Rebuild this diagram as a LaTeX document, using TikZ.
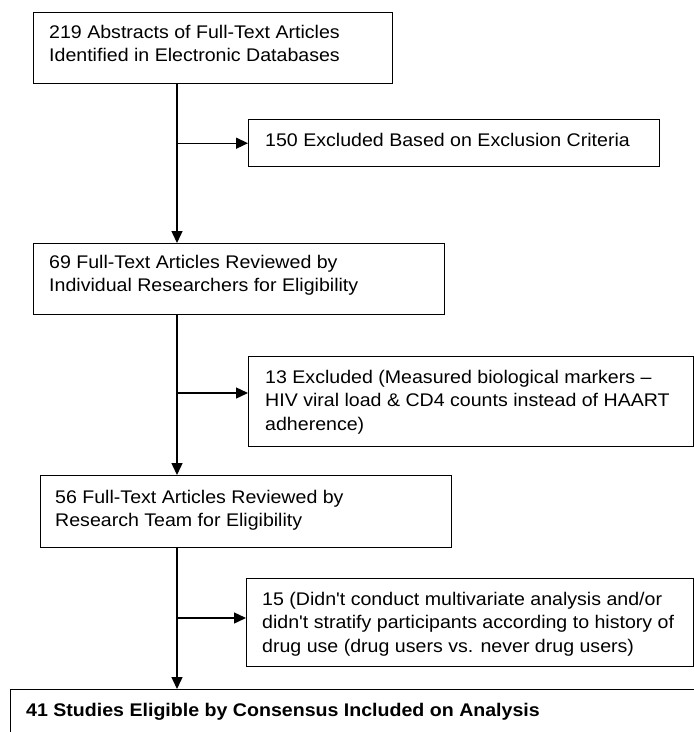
\documentclass[tikz,border=0pt]{standalone}
\usepackage{fontspec}
\setmainfont{Liberation Sans}[Ligatures=TeXOff, FakeStretch=1.07]
\usetikzlibrary{arrows.meta}
\newcommand{\flines}[1]{\begin{tabular}[t]{@{}l@{}}#1\end{tabular}}
\begin{document}
\begin{tikzpicture}[x=1pt,y=-1pt,
  box/.style={draw, line width=1.4pt, inner sep=0pt, anchor=north west},
  txt/.style={anchor=base west, inner sep=0pt, font=\fontsize{18.3}{23.5}\selectfont},
  flow/.style={line width=1.4pt, -{Triangle[length=12pt,width=11pt]}}]
\useasboundingbox (0,0) rectangle (694,732);
\fill[white] (0,0) rectangle (694,732);
\clip (0,0) rectangle (694,732);
% boxes
\node[box, minimum width=359pt, minimum height=71pt] (b1) at (33,12) {};
\node[box, minimum width=411pt, minimum height=47pt] (e1) at (248,119) {};
\node[box, minimum width=411pt, minimum height=71pt] (b2) at (33,243) {};
\node[box, minimum width=445pt, minimum height=90pt] (e2) at (248,356) {};
\node[box, minimum width=411pt, minimum height=72pt] (b3) at (40,475) {};
\node[box, minimum width=447pt, minimum height=88pt] (e3) at (246,578) {};
\node[box, minimum width=720pt, minimum height=80pt] (b4) at (10,689) {};
% texts
\node[txt] (t1) at (49,38) {\flines{219 Abstracts of Full-Text Articles\\Identified in Electronic Databases}};
\node[txt] (u1) at (265,146) {150 Excluded Based on Exclusion Criteria};
\node[txt] (t2) at (49,268) {\flines{69 Full-Text Articles Reviewed by\\Individual Researchers for Eligibility}};
\node[txt] (u2) at (265,383) {\flines{13 Excluded (Measured biological markers –\\HIV viral load \& CD4 counts instead of HAART\\adherence)}};
\node[txt] (t3) at (55,503) {\flines{56 Full-Text Articles Reviewed by\\Research Team for Eligibility}};
\node[txt] (u3) at (262,605) {\flines{15 (Didn't conduct multivariate analysis and/or\\didn't stratify participants according to history of\\drug use (drug users vs. never drug users)}};
\node[txt, font=\fontsize{18.3}{23.5}\selectfont\bfseries] (t4) at (26,716) {41 Studies Eligible by Consensus Included on Analysis};
% connectors
\coordinate (tx) at (177,0);
\coordinate (a2) at ([yshift=-37pt]e2.north west);
\coordinate (a3) at ([yshift=-40pt]e3.north west);
\draw[flow] (tx |- b1.south) -- (tx |- b2.north);
\draw[flow] (tx |- e1.west) -- (e1.west);
\draw[flow] (tx |- b2.south) -- (tx |- b3.north);
\draw[flow] (tx |- a2) -- (a2);
\draw[flow] (tx |- b3.south) -- (tx |- b4.north);
\draw[flow] (tx |- a3) -- (a3);
\end{tikzpicture}
\end{document}
